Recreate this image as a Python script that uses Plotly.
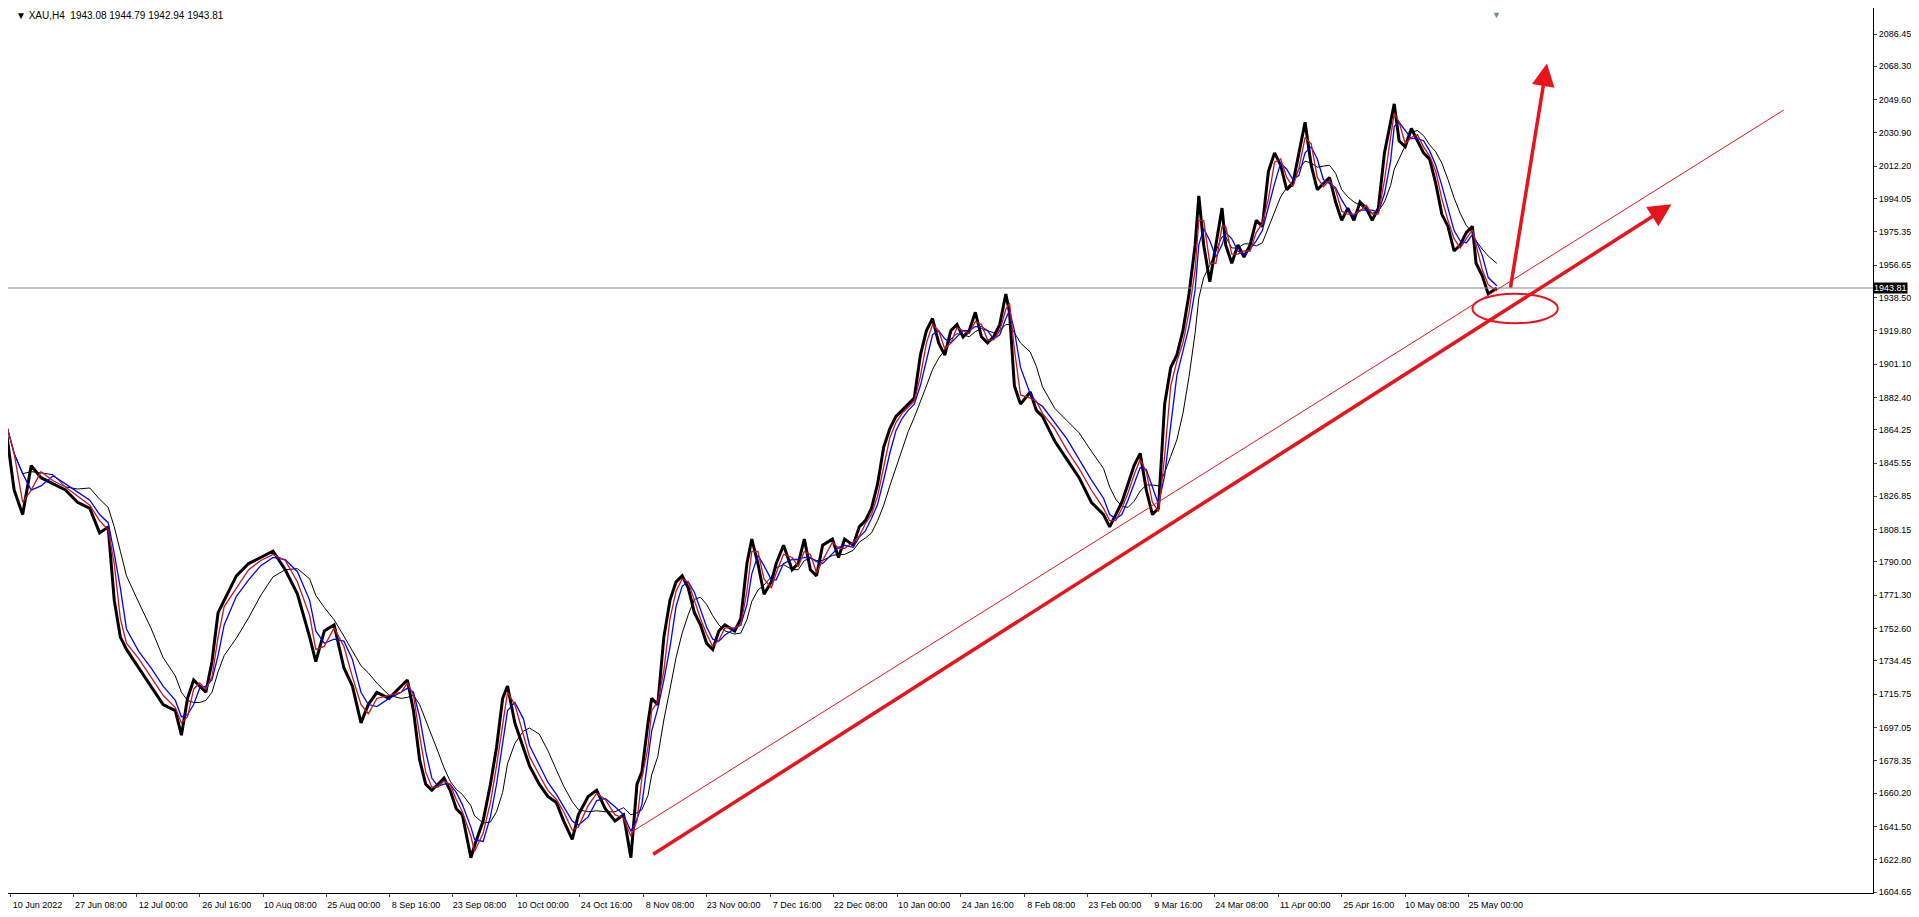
"""XAU H4 chart with trend line and arrows"""
import pandas as pd
import plotly.graph_objects as go

# bar index (one bar per chart column) and closing price
bar = [0, 8, 15, 22, 30, 40, 50, 60, 70, 78, 85, 90, 95, 100, 110, 120, 130, 140, 145, 150,
       155, 160, 165, 170, 175, 180, 190, 200, 210, 220, 230, 240, 250, 255, 262, 270, 278, 285, 292, 298,
       305, 315, 325, 330, 335, 340, 345, 350, 355, 360, 365, 370, 375, 382, 385, 392, 398, 403, 408, 412,
       418, 425, 430, 438, 445, 452, 458, 465, 470, 478, 485, 492, 500, 507, 513, 518, 522, 527, 530, 535,
       540, 545, 550, 555, 560, 565, 570, 575, 580, 585, 590, 598, 603, 608, 612, 617, 622, 628, 632, 638,
       645, 650, 655, 660, 665, 670, 678, 683, 688, 695, 700, 705, 710, 715, 720, 725, 730, 735, 740, 745,
       750, 755, 760, 765, 770, 775, 780, 785, 790, 795, 800, 805, 810, 815, 820, 823, 827, 832, 840, 845,
       850, 860, 870, 880, 890, 900, 905, 910, 915, 920, 925, 930, 935, 940, 945, 950, 955, 960, 965, 970,
       975, 978, 982, 987, 992, 997, 1000, 1005, 1010, 1015, 1020, 1025, 1030, 1035, 1040, 1045, 1050, 1055, 1060, 1065,
       1070, 1075, 1080, 1085, 1090, 1095, 1100, 1105, 1110, 1115, 1120, 1125, 1130, 1135, 1138, 1142, 1147, 1152, 1157, 1162,
       1167, 1172, 1177, 1182, 1187, 1192, 1197, 1202, 1205, 1210, 1215, 1222]
close = [1871.7, 1830.4, 1816.6, 1844.1, 1837.3, 1833.8, 1830.4, 1823.5, 1820.1, 1806.3,
         1809.7, 1768.4, 1747.8, 1740.9, 1730.6, 1720.3, 1709.9, 1706.5, 1692.7, 1713.4,
         1723.7, 1720.3, 1716.8, 1734.0, 1761.5, 1768.4, 1782.2, 1789.1, 1792.5, 1796.0,
         1785.6, 1771.9, 1747.8, 1734.0, 1751.2, 1754.7, 1730.6, 1720.3, 1699.6, 1709.9,
         1716.8, 1713.4, 1720.3, 1723.7, 1706.5, 1679.0, 1665.2, 1661.8, 1665.2, 1668.6,
         1661.8, 1651.4, 1648.0, 1623.9, 1630.8, 1644.5, 1665.2, 1685.8, 1713.4, 1720.3,
         1699.6, 1685.8, 1675.5, 1665.2, 1658.3, 1654.9, 1644.5, 1634.2, 1648.0, 1658.3,
         1661.8, 1651.4, 1644.5, 1648.0, 1623.9, 1665.2, 1672.1, 1699.6, 1713.4, 1709.9,
         1747.8, 1768.4, 1778.8, 1782.2, 1775.3, 1761.5, 1754.7, 1744.3, 1740.9, 1751.2,
         1754.7, 1751.2, 1758.1, 1789.1, 1802.8, 1789.1, 1771.9, 1778.8, 1789.1, 1799.4,
         1785.6, 1789.1, 1802.8, 1785.6, 1782.2, 1799.4, 1802.8, 1792.5, 1802.8, 1799.4,
         1809.7, 1813.2, 1820.1, 1833.8, 1854.5, 1864.8, 1871.7, 1875.1, 1878.6, 1882.0,
         1906.1, 1919.9, 1926.7, 1913.0, 1906.1, 1919.9, 1923.3, 1916.4, 1919.9, 1930.2,
         1916.4, 1913.0, 1916.4, 1923.3, 1940.5, 1930.2, 1888.9, 1878.6, 1885.4, 1875.1,
         1871.7, 1857.9, 1847.6, 1837.3, 1823.5, 1816.6, 1809.7, 1816.6, 1823.5, 1833.8,
         1844.1, 1851.0, 1830.4, 1816.6, 1820.1, 1878.6, 1899.2, 1906.1, 1919.9, 1940.5,
         1968.0, 1995.6, 1968.0, 1947.4, 1968.0, 1988.7, 1968.0, 1957.7, 1968.0, 1961.2,
         1968.0, 1981.8, 1978.4, 2009.3, 2019.7, 2012.8, 1999.0, 2002.5, 2019.7, 2036.9,
         2012.8, 1999.0, 2002.5, 2005.9, 1992.1, 1981.8, 1988.7, 1981.8, 1992.1, 1988.7,
         1981.8, 1988.7, 2019.7, 2036.9, 2047.2, 2026.5, 2023.1, 2033.4, 2026.5, 2019.7,
         2016.2, 2002.5, 1985.2, 1978.4, 1964.6, 1968.0, 1974.9, 1978.4, 1957.7, 1950.8,
         1940.5, 1943.8]

tick_bars = [5, 57, 108, 160, 212, 264, 315, 367, 419, 471, 523, 575, 627, 679, 731, 783,
             835, 887, 939, 991, 1043, 1095, 1147, 1199]
tick_text = ["10 Jun 2022", "27 Jun 08:00", "12 Jul 00:00", "26 Jul 16:00", "10 Aug 08:00",
             "25 Aug 00:00", "8 Sep 16:00", "23 Sep 08:00", "10 Oct 00:00", "24 Oct 16:00",
             "8 Nov 08:00", "23 Nov 00:00", "7 Dec 16:00", "22 Dec 08:00", "10 Jan 00:00",
             "24 Jan 16:00", "8 Feb 08:00", "23 Feb 00:00", "9 Mar 16:00", "24 Mar 08:00",
             "11 Apr 00:00", "25 Apr 16:00", "10 May 08:00", "25 May 00:00"]
price_ticks = [2086.45, 2068.30, 2049.60, 2030.90, 2012.20, 1994.05, 1975.35, 1956.65, 1938.50,
               1919.80, 1901.10, 1882.40, 1864.25, 1845.55, 1826.85, 1808.15, 1790.00, 1771.30,
               1752.60, 1734.45, 1715.75, 1697.05, 1678.35, 1660.20, 1641.50, 1622.80, 1604.65]
last_price = 1943.81

# drawn objects: trend line, arrows, ellipse (bar, price)
trend_thin = [(513, 1638.1), (1457, 2043.8)]
trend_arrow = [(530, 1625.3), (1365, 1990.8)]
up_arrow = [(1233, 1943.3), (1263, 2069.9)]
ellipse = [(1202, 1924.0), (1272, 1940.6)]

RED = "#e8141c"

s = pd.Series(close)
fig = go.Figure()
fig.add_trace(go.Scatter(x=bar, y=close, mode="lines", line=dict(color="black", width=3)))
fig.add_trace(go.Scatter(x=bar, y=s.rolling(6, min_periods=1).mean(), mode="lines",
                         line=dict(color="black", width=1)))
fig.add_trace(go.Scatter(x=bar, y=s.rolling(3, min_periods=1).mean(), mode="lines",
                         line=dict(color="#0000ff", width=1.3)))
fig.add_trace(go.Scatter(x=bar, y=s.rolling(2, min_periods=1).mean(), mode="lines",
                         line=dict(color="#c8141c", width=1.3)))

fig.add_hline(y=last_price, line=dict(color="#7a8896", width=1.2))
fig.add_shape(type="line", x0=trend_thin[0][0], y0=trend_thin[0][1],
              x1=trend_thin[1][0], y1=trend_thin[1][1], line=dict(color=RED, width=1))
fig.add_shape(type="circle", x0=ellipse[0][0], y0=ellipse[0][1],
              x1=ellipse[1][0], y1=ellipse[1][1], line=dict(color=RED, width=2))
for a in (trend_arrow, up_arrow):
    fig.add_annotation(x=a[1][0], y=a[1][1], ax=a[0][0], ay=a[0][1], xref="x", yref="y",
                       axref="x", ayref="y", text="", showarrow=True, arrowhead=2,
                       arrowsize=1.3, arrowwidth=3.5, arrowcolor=RED)

fig.add_annotation(x=1.0, xref="paper", xanchor="left", y=last_price, yref="y",
                   text=f"{last_price:.2f}", showarrow=False, bgcolor="black",
                   font=dict(color="white", size=9), borderpad=0)
fig.add_annotation(x=0.003, y=1.0, xref="paper", yref="paper", xanchor="left", yanchor="top",
                   text="▼ XAU,H4  1943.08 1944.79 1942.94 1943.81", showarrow=False,
                   font=dict(size=10, color="black"))
fig.add_annotation(x=1222, y=1.0, xref="x", yref="paper", yanchor="top", text="▼",
                   showarrow=False, font=dict(size=9, color="#7a8896"))

fig.update_layout(
    width=1903, height=901, showlegend=False,
    paper_bgcolor="white", plot_bgcolor="white",
    margin=dict(l=0, r=38, t=0, b=16),
    font=dict(family="Liberation Sans", size=9, color="black"),
    xaxis=dict(range=[3, 1530], tickvals=tick_bars, ticktext=tick_text, ticks="outside",
               ticklen=3, tickangle=0, ticklabelshift=27, ticklabelstandoff=0,
               automargin=False, showgrid=False, zeroline=False, showline=True,
               linecolor="black", mirror=True),
    yaxis=dict(range=[1604.1, 2101.05], side="right", tickvals=price_ticks,
               ticktext=[f"{p:.2f}" for p in price_ticks], ticks="outside", ticklen=3,
               ticklabelstandoff=0, automargin=False,
               showgrid=False, zeroline=False, showline=True, linecolor="black", mirror=True),
)
fig.write_html("out.html")
